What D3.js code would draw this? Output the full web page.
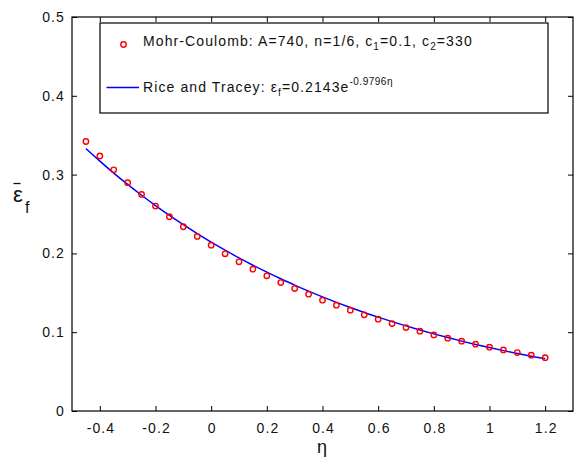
<!DOCTYPE html>
<html><head><meta charset="utf-8">
<script src="https://cdn.jsdelivr.net/npm/d3@7"></script>
<style>body{margin:0;background:#fff}svg{display:block;font-family:"Liberation Sans",Arial,sans-serif}</style>
</head><body><svg id="c" width="580" height="458"></svg>
<script>
const eta = [-0.45,-0.4,-0.35,-0.3,-0.25,-0.2,-0.15,-0.1,-0.05,0,0.05,0.1,0.15,0.2,0.25,0.3,0.35,0.4,0.45,0.5,0.55,0.6,0.65,0.7,0.75,0.8,0.85,0.9,0.95,1.0,1.05,1.1,1.15,1.2];
const mohrCoulomb = [0.342,0.3236,0.306,0.2897,0.2749,0.260,0.2465,0.2338,0.2215,0.2105,0.1995,0.1893,0.180,0.1715,0.163,0.1554,0.1483,0.1407,0.1343,0.128,0.122,0.1165,0.111,0.1059,0.1013,0.0966,0.0924,0.0886,0.0848,0.081,0.0775,0.0741,0.0708,0.0677];
const riceTracey = [0.3330,0.3171,0.3019,0.2875,0.2738,0.2607,0.2482,0.2364,0.2251,0.2143,0.2041,0.1943,0.1850,0.1762,0.1678,0.1597,0.1521,0.1448,0.1379,0.1313,0.1250,0.1191,0.1134,0.1080,0.1028,0.0979,0.0932,0.0887,0.0845,0.0805,0.0766,0.0730,0.0695,0.0662];
const xTicks = [-0.4,-0.2,0,0.2,0.4,0.6,0.8,1,1.2];
const yTicks = [0,0.1,0.2,0.3,0.4,0.5];

const svg = d3.select("#c");
const L=72, T=17, R=573, B=411;
const LS = 1.1;
const x = d3.scaleLinear().domain([-0.5,1.3]).range([L,R]);
const y = d3.scaleLinear().domain([0,0.5]).range([B,T]);
const fmt = d => String(d);

// axes
const gx = svg.append("g").attr("transform",`translate(0,${B})`)
  .call(d3.axisBottom(x).tickValues(xTicks).tickSize(-5).tickPadding(12).tickFormat(fmt));
const gxt = svg.append("g").attr("transform",`translate(0,${T})`)
  .call(d3.axisTop(x).tickValues(xTicks).tickSize(-5).tickFormat(""));
const gy = svg.append("g").attr("transform",`translate(${L},0)`)
  .call(d3.axisLeft(y).tickValues(yTicks).tickSize(-5).tickPadding(7).tickFormat(fmt));
const gyr = svg.append("g").attr("transform",`translate(${R},0)`)
  .call(d3.axisRight(y).tickValues(yTicks).tickSize(-5).tickFormat(""));
[gx,gxt,gy,gyr].forEach(g=>{
  g.select(".domain").remove();
  g.selectAll(".tick line").attr("stroke","#000").attr("stroke-width",1);
  g.selectAll("text").attr("fill","#111").attr("font-size",14).attr("letter-spacing",LS)
   .attr("font-family","Liberation Sans, Arial, sans-serif");
});
gx.selectAll("text").attr("dx",LS/2);
svg.append("rect").attr("x",L).attr("y",T).attr("width",R-L).attr("height",B-T)
  .attr("fill","none").attr("stroke","#000").attr("stroke-width",1.2);

// line
const line = d3.line().x((d,i)=>x(eta[i])).y(d=>y(d)).curve(d3.curveMonotoneX);
svg.append("path").datum(riceTracey).attr("d",line).attr("fill","none").attr("stroke","#0000ff").attr("stroke-width",1.5);

// points
svg.append("g").selectAll("circle").data(mohrCoulomb).join("circle")
  .attr("cx",(d,i)=>x(eta[i])).attr("cy",d=>y(d)).attr("r",2.7)
  .attr("fill","none").attr("stroke","#ff0000").attr("stroke-width",1.4);

// legend
const lg = svg.append("g");
lg.append("rect").attr("x",100).attr("y",23).attr("width",448).attr("height",90)
  .attr("fill","#fff").attr("stroke","#000").attr("stroke-width",1.2);
lg.append("circle").attr("cx",123.5).attr("cy",44.5).attr("r",2.7).attr("fill","none").attr("stroke","#ff0000").attr("stroke-width",1.4);
const t1 = lg.append("text").attr("x",143).attr("y",45.5).attr("font-size",14).attr("letter-spacing",LS).attr("fill","#111");
t1.append("tspan").text("Mohr-Coulomb: A=740, n=1/6, c");
t1.append("tspan").attr("font-size",10).attr("dy",4).text("1");
t1.append("tspan").attr("dy",-4).text("=0.1, c");
t1.append("tspan").attr("font-size",10).attr("dy",4).text("2");
t1.append("tspan").attr("dy",-4).text("=330");
lg.append("line").attr("x1",106.5).attr("x2",139).attr("y1",87.5).attr("y2",87.5).attr("stroke","#0000ff").attr("stroke-width",1.5);
const t2 = lg.append("text").attr("x",143).attr("y",91.7).attr("font-size",14).attr("letter-spacing",LS).attr("fill","#111");
t2.append("tspan").text("Rice and Tracey: ε");
t2.append("tspan").attr("font-size",10).attr("dy",4).text("f");
t2.append("tspan").attr("dy",-4).text("=0.2143e");
t2.append("tspan").attr("font-size",10).attr("dy",-7).attr("letter-spacing",0.5).text("-0.9796η");

// axis labels
svg.append("text").attr("x",322).attr("y",452.5).attr("text-anchor","middle").attr("font-size",18).attr("fill","#111").text("η");
const yl = svg.append("text").attr("x",13).attr("y",202).attr("font-size",22).attr("fill","#111");
yl.append("tspan").text("ε");
yl.append("tspan").attr("x",25).attr("font-size",16).attr("dy",11).text("f");
svg.append("line").attr("x1",13.5).attr("x2",20.5).attr("y1",183.5).attr("y2",183.5).attr("stroke","#111").attr("stroke-width",1.3);
</script></body></html>
